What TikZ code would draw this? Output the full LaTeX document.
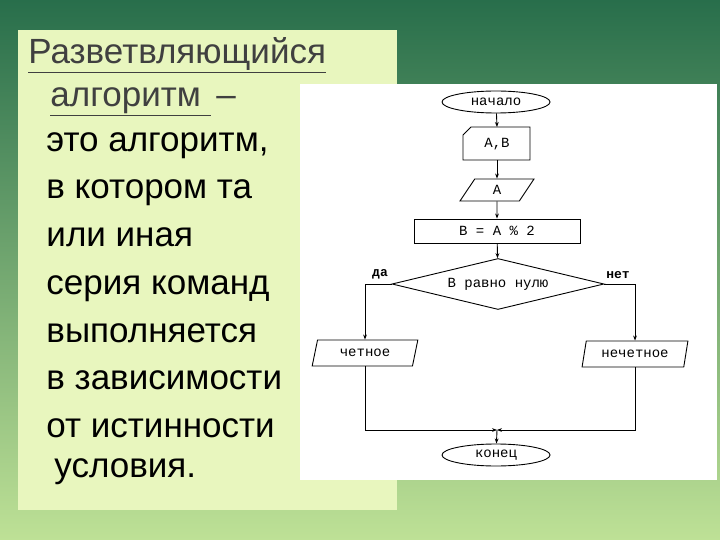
\documentclass[tikz,border=0pt]{standalone}
\usepackage{fontspec}
\setmainfont{Liberation Sans}
\newfontfamily\flowfont{Liberation Mono}
\usetikzlibrary{shapes.geometric,shapes.misc,arrows.meta}
\definecolor{bgtop}{RGB}{40,110,75}
\definecolor{bgbot}{RGB}{190,225,150}
\definecolor{panel}{RGB}{232,246,190}
\tikzset{
  term/.style={draw,ellipse,minimum width=108pt,minimum height=22pt,inner sep=0pt},
  io/.style={draw,trapezium,trapezium left angle=73,trapezium right angle=107,
    trapezium stretches=true,minimum height=22pt,inner sep=1pt},
  proc/.style={draw,rectangle,minimum width=166pt,minimum height=24pt},
  cond/.style={draw,diamond,aspect=4.1,minimum width=212pt,minimum height=51pt,inner sep=0pt},
  flow/.style={-{Stealth[length=5pt]}},
  txt/.style={anchor=base west,font=\fontsize{35}{40}\selectfont,inner sep=0pt},
}
\begin{document}
\begin{tikzpicture}[x=1pt,y=-1pt,line width=0.9pt,flowfont/.style={font=\flowfont\fontsize{14}{16}\selectfont}]
\useasboundingbox (0,0) rectangle (720,540);
\shade[top color=bgtop,bottom color=bgbot] (0,0) rectangle (720,540);
\fill[panel] (18,30) rectangle (397,510);
\fill[white] (300,84) rectangle (717,480);
% left text
\node[txt,text=black!75] (t1) at (28,64) {\underline{Разветвляющийся}};
\node[txt,text=black!75] (t2) at (50,107) {\underline{алгоритм }\,–};
\foreach \y/\s [count=\i] in {152/{это алгоритм,},199/в котором та,247/или иная,294/серия команд,342/выполняется,389/в зависимости,437/от истинности}
  \node[txt] (l\i) at (46,\y) {\s};
\node[txt] (l8) at (54,477) {условия.};
% flowchart
\begin{scope}[flowfont]
\node[term] (start) at (496,102) {начало};
\draw (463,160) -- (463,135) -- (471,127) -- (530,127) -- (530,160) -- cycle;
\node (ab) at (497,144) {A,B};
\coordinate (abtop) at (497,127);
\coordinate (abbot) at (497,160);
\node[io,minimum width=74pt] (a) at (497,190) {A};
\node[proc] (calc) at (497,231) {B = A \% 2};
\node[cond] (test) at (498,284) {B равно нулю};
\node[font=\flowfont\bfseries\fontsize{13}{14}\selectfont] (yes) at (380,274) {да};
\node[font=\flowfont\bfseries\fontsize{13}{14}\selectfont] (no) at (618,275) {нет};
\node[io,minimum width=106pt,minimum height=26pt] (even) at (365,353) {четное};
\node[io,minimum width=106pt,minimum height=26pt] (odd) at (635,354) {нечетное};
\node[term] (stop) at (496,455) {конец};
\coordinate (join) at (497,430);
\draw[flow] (start) -- (abtop);
\draw[flow] (abbot) -- (a);
\draw[flow] (a) -- (calc);
\draw[flow] (calc) -- (test);
\draw[flow] (test.west) -| (even.north);
\draw[flow] (test.east) -| (odd.north);
\draw[flow] (even.south) |- (join);
\draw[flow] (odd.south) |- (join);
\draw[flow] (join) -- (stop);
\end{scope}
\end{tikzpicture}
\end{document}
